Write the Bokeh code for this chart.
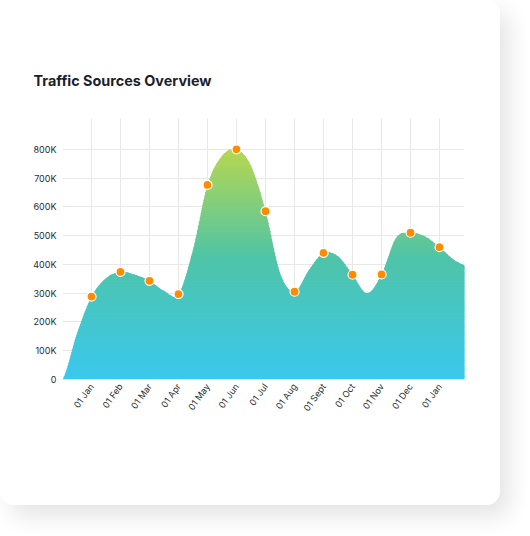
import numpy as np
from bokeh.plotting import figure
from bokeh.models import Range1d, FixedTicker
from bokeh.embed import file_html
from bokeh.resources import INLINE

# monthly markers (thousands of visits)
months = ["01 Jan", "01 Feb", "01 Mar", "01 Apr", "01 May", "01 Jun", "01 Jul",
          "01 Aug", "01 Sept", "01 Oct", "01 Nov", "01 Dec", "01 Jan"]
month_pos = [1, 2, 3, 4, 5, 6, 7, 8, 9, 10, 11, 12, 13]
visits = [288, 374, 343, 297, 676, 800, 585, 305, 440, 364, 365, 510, 460]

# shape of the curve, read every half month (thousands)
knot_pos = [0, 0.5, 1, 1.5, 2, 2.5, 3, 3.5, 4, 4.5, 5, 5.5, 6, 6.5, 7, 7.5,
            8, 8.5, 9, 9.5, 10, 10.5, 11, 11.5, 12, 12.5, 13, 13.5, 14]
knot_val = [0, 160, 288, 352, 374, 364, 343, 308, 297, 451, 676, 777, 800, 742,
            585, 370, 305, 381, 440, 428, 364, 300, 365, 492, 510, 497, 460, 416, 392]

y_ticks = [0, 100, 200, 300, 400, 500, 600, 700, 800]

# gradient stops (value in K, rgb)
stops = [(0, (58, 200, 238)), (420, (78, 196, 168)), (800, (182, 215, 80))]


def smooth(xs, ys, n=16):
    # catmull-rom through the knots
    xs = np.asarray(xs, float)
    ys = np.asarray(ys, float)
    yp = np.concatenate([[ys[0]], ys, [ys[-1]]])
    ox, oy = [], []
    t = np.linspace(0, 1, n, endpoint=False)
    for i in range(len(xs) - 1):
        p0, p1, p2, p3 = yp[i], yp[i + 1], yp[i + 2], yp[i + 3]
        yy = 0.5 * (2 * p1 + (-p0 + p2) * t + (2 * p0 - 5 * p1 + 4 * p2 - p3) * t ** 2
                    + (-p0 + 3 * p1 - 3 * p2 + p3) * t ** 3)
        ox.extend(xs[i] + (xs[i + 1] - xs[i]) * t)
        oy.extend(yy)
    ox.append(xs[-1])
    oy.append(ys[-1])
    return np.array(ox), np.array(oy)


def color_at(v):
    for (a, ca), (b, cb) in zip(stops[:-1], stops[1:]):
        if v <= b:
            f = (v - a) / (b - a)
            c = [int(round(ca[k] + (cb[k] - ca[k]) * f)) for k in range(3)]
            return "#%02x%02x%02x" % tuple(c)
    return "#%02x%02x%02x" % stops[-1][1]


p = figure(width=500, height=505, output_backend="svg", toolbar_location=None,
           x_range=Range1d(0, 13.86), y_range=Range1d(0, 907000),
           min_border_left=62, min_border_right=36, min_border_top=118,
           min_border_bottom=126)
p.styles = {"border-radius": "14px", "overflow": "hidden",
            "box-shadow": "10px 12px 22px rgba(0,0,0,0.10)"}
p.background_fill_color = "white"
p.border_fill_color = "white"
p.outline_line_color = None

p.title.text = "Traffic Sources Overview"
p.title.text_font = "Inter"
p.title.text_font_size = "14.4px"
p.title.text_font_style = "bold"
p.title.text_color = "#1c1e2c"
p.title.align = "left"
p.title.offset = -29
p.title.standoff = 60

# gradient area drawn as thin horizontal bands
cx, cy = smooth(knot_pos, knot_val)
nb = 90
step = 810 / nb
for k in range(nb):
    lo = k * step
    hi = lo + step
    top = np.clip(cy, lo, hi + step * 0.5)
    p.varea(x=cx, y1=np.full(len(cx), lo * 1000), y2=top * 1000,
            fill_color=color_at(lo + step / 2))

p.scatter(x=month_pos, y=[v * 1000 for v in visits], size=9,
          fill_color="#ff8c00", line_color="white", line_width=1.2)

p.xaxis.ticker = FixedTicker(ticks=month_pos)
p.xaxis.major_label_overrides = {m: lab for m, lab in zip(month_pos, months)}
p.xaxis.major_label_orientation = 0.95
p.yaxis.ticker = FixedTicker(ticks=[t * 1000 for t in y_ticks])
p.yaxis.major_label_overrides = {t * 1000: ("%dK" % t if t else "0") for t in y_ticks}

for ax in (p.xaxis[0], p.yaxis[0]):
    ax.major_label_text_font = "Inter"
    ax.major_label_text_font_size = "9px"
    ax.major_label_text_color = "#2a2d30"
    ax.major_tick_line_color = None
    ax.minor_tick_line_color = None
    ax.major_tick_out = 0
    ax.major_tick_in = 0
p.yaxis.axis_line_color = None
p.xaxis.axis_line_color = "#e3e3e3"
p.yaxis.major_label_standoff = 6
p.xaxis.major_label_standoff = 5

p.xgrid.ticker = FixedTicker(ticks=[0] + month_pos)
p.ygrid.ticker = FixedTicker(ticks=[t * 1000 for t in y_ticks[1:]])
p.xgrid.grid_line_color = "#e8e8e8"
p.ygrid.grid_line_color = "#e8e8e8"

open("out.html", "w").write(file_html(p, INLINE))
